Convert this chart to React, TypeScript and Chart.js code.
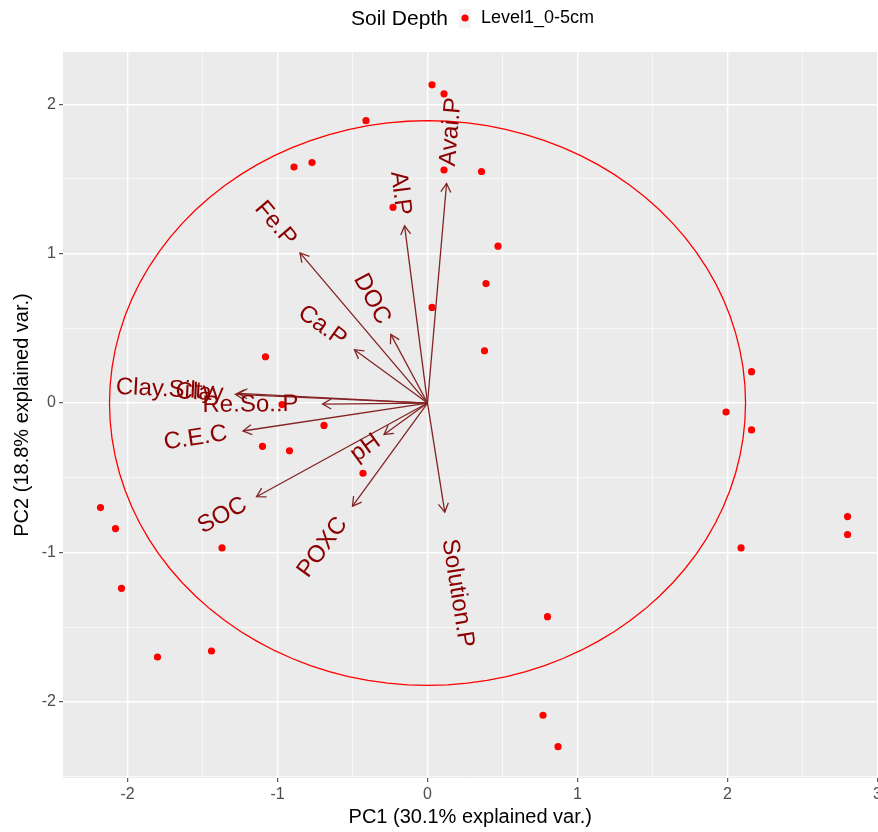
import React, { useEffect, useRef } from 'react';
import { Chart, registerables } from 'chart.js';

Chart.register(...registerables);

// ---- data ----
const pc1 = [0.03, 0.11, -0.41, -0.89, -0.77, 0.11, 0.36, -0.23, 0.47, 0.39, 0.03, 0.38, -1.08, 2.16, 1.99, 2.16, -0.97, -0.69, -1.10, -0.92, -0.43, -2.18, -2.08, -1.37, -2.04, -1.80, -1.44, 2.80, 2.80, 2.09, 0.80, 0.77, 0.87];
const pc2 = [2.13, 2.07, 1.89, 1.58, 1.61, 1.56, 1.55, 1.31, 1.05, 0.80, 0.64, 0.35, 0.31, 0.21, -0.06, -0.18, -0.01, -0.15, -0.29, -0.32, -0.47, -0.70, -0.84, -0.97, -1.24, -1.70, -1.66, -0.76, -0.88, -0.97, -1.43, -2.09, -2.30];

const varNames = ['Avai.P', 'Al.P', 'Fe.P', 'DOC', 'Ca.P', 'Clay.Silty', 'Clay', 'Re.So..P', 'C.E.C', 'pH', 'SOC', 'POXC', 'Solution.P'];
const varPC1 = [0.127, -0.153, -0.85, -0.245, -0.487, -1.26, -1.28, -0.70, -1.23, -0.29, -1.14, -0.50, 0.115];
const varPC2 = [1.47, 1.186, 1.005, 0.46, 0.357, 0.065, 0.058, -0.007, -0.187, -0.21, -0.627, -0.69, -0.73];

const circleRadiusX = 2.12;
const circleRadiusY = 1.89;
const circleSegments = 100;

const xBreaks = [-2, -1.5, -1, -0.5, 0, 0.5, 1, 1.5, 2, 2.5, 3];
const yBreaks = [-2.5, -2, -1.5, -1, -0.5, 0, 0.5, 1, 1.5, 2];
const xMajor = [-2, -1, 0, 1, 2, 3];
const xTickLabels = ['-2', '-1', '0', '1', '2', '3'];
const yMajor = [-2, -1, 0, 1, 2];
const yTickLabels = ['-2', '-1', '0', '1', '2'];

const xTitle = 'PC1 (30.1% explained var.)';
const yTitle = 'PC2 (18.8% explained var.)';
const legendTitle = 'Soil Depth';
const groupName = 'Level1_0-5cm';

const FONT = '"Liberation Sans", Arial, Helvetica, sans-serif';

const biplotPlugin = {
  id: 'biplot',
  beforeDraw(chart: any) {
    const { ctx, chartArea: a } = chart;
    ctx.save();
    ctx.fillStyle = '#EBEBEB';
    ctx.fillRect(a.left, a.top, a.right - a.left, a.bottom - a.top);
    ctx.restore();
  },
  beforeDatasetsDraw(chart: any) {
    const { ctx } = chart;
    const xs = chart.scales.x;
    const ys = chart.scales.y;
    const ox = xs.getPixelForValue(0);
    const oy = ys.getPixelForValue(0);
    ctx.save();
    ctx.strokeStyle = '#832424';
    ctx.lineWidth = 1.3;
    ctx.lineCap = 'butt';
    for (let i = 0; i < varNames.length; i++) {
      const tx = xs.getPixelForValue(varPC1[i]);
      const ty = ys.getPixelForValue(varPC2[i]);
      ctx.beginPath();
      ctx.moveTo(ox, oy);
      ctx.lineTo(tx, ty);
      ctx.stroke();
      const ang = Math.atan2(ty - oy, tx - ox);
      const hl = 10;
      ctx.beginPath();
      ctx.moveTo(tx + hl * Math.cos(ang + Math.PI - Math.PI / 6), ty + hl * Math.sin(ang + Math.PI - Math.PI / 6));
      ctx.lineTo(tx, ty);
      ctx.lineTo(tx + hl * Math.cos(ang + Math.PI + Math.PI / 6), ty + hl * Math.sin(ang + Math.PI + Math.PI / 6));
      ctx.stroke();
    }
    ctx.restore();
  },
  afterDatasetsDraw(chart: any) {
    const { ctx } = chart;
    const xs = chart.scales.x;
    const ys = chart.scales.y;
    ctx.save();
    ctx.font = '24px ' + FONT;
    ctx.fillStyle = '#8B0000';
    ctx.textBaseline = 'middle';
    for (let i = 0; i < varNames.length; i++) {
      const vx = varPC1[i];
      const vy = varPC2[i];
      const tx = xs.getPixelForValue(vx);
      const ty = ys.getPixelForValue(vy);
      const angle = Math.atan(vy / vx);
      const w = ctx.measureText(varNames[i]).width;
      ctx.save();
      ctx.translate(tx, ty);
      ctx.rotate(-angle);
      if (vx > 0) {
        ctx.textAlign = 'left';
        ctx.fillText(varNames[i], 0.25 * w, 0);
      } else {
        ctx.textAlign = 'right';
        ctx.fillText(varNames[i], -0.25 * w, 0);
      }
      ctx.restore();
    }
    ctx.restore();
  },
  afterDraw(chart: any) {
    const { ctx } = chart;
    ctx.save();
    ctx.textBaseline = 'middle';
    ctx.textAlign = 'left';
    ctx.fillStyle = '#000000';
    ctx.font = '21px ' + FONT;
    ctx.fillText(legendTitle, 351, 19);
    ctx.fillStyle = '#F4F4F4';
    ctx.fillRect(459, 9, 12, 19);
    ctx.fillStyle = '#FF0000';
    ctx.beginPath();
    ctx.arc(465, 18, 3.6, 0, Math.PI * 2);
    ctx.fill();
    ctx.fillStyle = '#000000';
    ctx.font = '18px ' + FONT;
    ctx.fillText(groupName, 481, 18);
    ctx.restore();
  },
};

function labelFor(value: number, majors: number[], labels: string[]) {
  const idx = majors.findIndex((m) => Math.abs(m - value) < 1e-9);
  return idx >= 0 ? labels[idx] : '';
}

function isMajor(value: number, majors: number[]) {
  return majors.some((m) => Math.abs(m - value) < 1e-9);
}

export default function App() {
  const canvasRef = useRef<HTMLCanvasElement | null>(null);

  useEffect(() => {
    document.body.style.margin = '0';
    document.body.style.overflow = 'hidden';
    const canvas = canvasRef.current;
    if (!canvas) return;

    const points = pc1.map((x, i) => ({ x, y: pc2[i] }));
    const circle = [] as { x: number; y: number }[];
    for (let k = 0; k <= circleSegments; k++) {
      const t = (2 * Math.PI * k) / circleSegments;
      circle.push({ x: circleRadiusX * Math.cos(t), y: circleRadiusY * Math.sin(t) });
    }

    const gridCfg = (majors: number[]) => ({
      color: '#FFFFFF',
      lineWidth: (c: any) => (c.tick && isMajor(c.tick.value, majors) ? 1.4 : 0.6),
      tickColor: (c: any) => (c.tick && isMajor(c.tick.value, majors) ? '#333333' : 'rgba(0,0,0,0)'),
      tickWidth: 1,
      tickLength: 4,
      drawTicks: true,
      drawOnChartArea: true,
    });

    const chart = new Chart(canvas, {
      type: 'scatter',
      data: {
        datasets: [
          {
            label: groupName,
            data: points,
            backgroundColor: '#FF0000',
            borderColor: '#FF0000',
            pointRadius: 3.6,
            pointBorderWidth: 0,
            order: 0,
          },
          {
            label: 'circle',
            data: circle,
            showLine: true,
            borderColor: '#FF0000',
            borderWidth: 1.3,
            pointRadius: 0,
            fill: false,
            tension: 0,
            order: 1,
          } as any,
        ],
      },
      options: {
        animation: false,
        responsive: false,
        events: [],
        layout: { padding: { top: 52, right: 0, left: 0, bottom: 0 } },
        plugins: {
          legend: { display: false },
          tooltip: { enabled: false },
        },
        scales: {
          x: {
            type: 'linear',
            min: -2.43,
            max: 3.0,
            afterBuildTicks: (s: any) => {
              s.ticks = xBreaks.map((v) => ({ value: v }));
            },
            afterFit: (s: any) => {
              s.height = 54;
            },
            ticks: {
              autoSkip: false,
              maxRotation: 0,
              minRotation: 0,
              padding: 3,
              color: '#4D4D4D',
              font: { family: FONT, size: 16 },
              callback: (v: any) => labelFor(Number(v), xMajor, xTickLabels),
            },
            grid: gridCfg(xMajor) as any,
            border: { display: false },
            title: {
              display: true,
              text: xTitle,
              color: '#000000',
              font: { family: FONT, size: 20 },
              padding: { top: 0, bottom: 3 },
            },
          },
          y: {
            type: 'linear',
            min: -2.51,
            max: 2.35,
            afterBuildTicks: (s: any) => {
              s.ticks = yBreaks.map((v) => ({ value: v }));
            },
            afterFit: (s: any) => {
              s.width = 63;
            },
            ticks: {
              autoSkip: false,
              padding: 3,
              color: '#4D4D4D',
              font: { family: FONT, size: 16 },
              callback: (v: any) => labelFor(Number(v), yMajor, yTickLabels),
            },
            grid: gridCfg(yMajor) as any,
            border: { display: false },
            title: {
              display: true,
              text: yTitle,
              color: '#000000',
              font: { family: FONT, size: 20 },
              padding: { top: 10, bottom: 0 },
            },
          },
        },
      },
      plugins: [biplotPlugin],
    });

    return () => chart.destroy();
  }, []);

  return (
    <div style={{ width: 878, height: 832, overflow: 'hidden' }}>
      <canvas ref={canvasRef} width={885} height={832} style={{ display: 'block' }} />
    </div>
  );
}
